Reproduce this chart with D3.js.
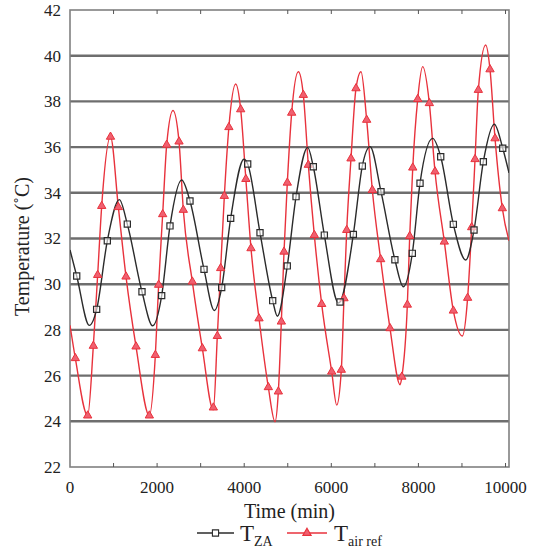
<!DOCTYPE html>
<html><head><meta charset="utf-8">
<script src="https://cdn.jsdelivr.net/npm/d3@7"></script>
<style>body{margin:0;background:#fff}svg{display:block}</style>
</head><body><svg id="c" width="534" height="554"></svg>
<script>
// ---- data ----
const yTicks = [22,24,26,28,30,32,34,36,38,40,42];
const xTicks = [0,2000,4000,6000,8000,10000];
const xMinorTicks = [1000,2000,3000,4000,5000,6000,7000,8000,9000,10000];
const gridValues = [24,26,28,30,32,34,36,38,40];
const xLabel = "Time (min)";
const yLabel = "Temperature (˚C)";
const seriesNames = ["ZA","air ref"];

// T_ZA line points [time, value]
const tzaLine = [[0,31.5],[154,30.36],[444,28.2],[612,28.9],[857,31.9],[1133,33.7],[1316,32.63],[1653,29.67],[1898,28.18],[2105,29.5],[2296,32.55],[2564,34.56],[2755,33.64],[3077,30.65],[3314,28.85],[3483,29.85],[3689,32.88],[3995,35.47],[4080,35.26],[4363,32.25],[4654,29.28],[4761,28.6],[4989,30.8],[5190,33.83],[5458,35.99],[5587,35.14],[5840,32.15],[6165,29.18],[6200,29.22],[6506,32.18],[6712,35.17],[6889,36.02],[7141,34.05],[7460,31.07],[7654,29.89],[7860,31.35],[8037,34.42],[8328,36.38],[8512,35.58],[8802,32.62],[9086,31.06],[9277,32.37],[9491,35.36],[9743,37.0],[9936,35.95],[10080,34.87]];
const tzaMarkers = [[154,30.36],[612,28.9],[857,31.9],[1316,32.63],[1653,29.67],[2105,29.5],[2296,32.55],[2755,33.64],[3077,30.65],[3483,29.85],[3689,32.88],[4080,35.26],[4363,32.25],[4654,29.28],[4989,30.8],[5190,33.83],[5587,35.14],[5840,32.15],[6200,29.22],[6506,32.18],[6712,35.17],[7141,34.05],[7460,31.07],[7860,31.35],[8037,34.42],[8512,35.58],[8802,32.62],[9277,32.37],[9491,35.36],[9936,35.95]];

// T_air ref line points [time, value]
const tairLine = [[0,28.2],[122,26.76],[406,24.25],[536,27.3],[635,30.4],[728,33.42],[930,36.45],[1110,33.37],[1286,30.33],[1516,27.27],[1822,24.25],[1960,26.9],[2035,29.97],[2128,33.06],[2220,36.1],[2365,37.6],[2503,36.24],[2602,33.25],[2809,30.11],[3039,27.19],[3291,24.5],[3383,27.73],[3460,30.7],[3544,33.86],[3648,36.87],[3804,38.76],[3919,37.65],[4038,34.6],[4156,31.57],[4340,28.5],[4554,25.49],[4707,23.98],[4784,25.3],[4853,28.36],[4914,31.42],[4990,34.44],[5090,37.5],[5243,39.3],[5358,38.28],[5472,35.22],[5610,32.15],[5779,29.13],[6009,26.17],[6124,24.71],[6230,26.25],[6291,29.38],[6354,32.37],[6452,35.5],[6567,38.57],[6682,39.3],[6812,37.19],[6942,34.12],[7133,31.09],[7348,28.07],[7580,25.6],[7620,25.95],[7746,29.1],[7800,32.1],[7870,35.1],[7984,38.1],[8098,39.52],[8251,37.92],[8381,34.93],[8595,31.86],[8802,28.84],[9008,27.73],[9130,29.4],[9223,32.49],[9300,35.47],[9376,38.5],[9545,40.47],[9644,39.4],[9759,36.38],[9927,33.32],[10080,31.9]];
const tairMarkers = [[122,26.76],[406,24.25],[536,27.3],[635,30.4],[728,33.42],[930,36.45],[1110,33.37],[1286,30.33],[1516,27.27],[1822,24.25],[1960,26.9],[2035,29.97],[2128,33.06],[2220,36.1],[2503,36.24],[2602,33.25],[2809,30.11],[3039,27.19],[3291,24.6],[3383,27.73],[3460,30.7],[3544,33.86],[3648,36.87],[3919,37.65],[4038,34.6],[4156,31.57],[4340,28.5],[4554,25.49],[4784,25.3],[4853,28.36],[4914,31.42],[4990,34.44],[5090,37.5],[5358,38.28],[5472,35.22],[5610,32.15],[5779,29.13],[6009,26.17],[6230,26.25],[6291,29.38],[6354,32.37],[6452,35.5],[6567,38.57],[6812,37.19],[6942,34.12],[7133,31.09],[7348,28.07],[7620,25.95],[7746,29.1],[7800,32.1],[7870,35.1],[7984,38.1],[8251,37.92],[8381,34.93],[8595,31.86],[8802,28.84],[9130,29.4],[9223,32.49],[9300,35.47],[9376,38.5],[9644,39.4],[9759,36.38],[9927,33.32]];

// ---- chart ----
const svg = d3.select("#c");
const L = 70, R = 509, T = 10, B = 467;
const x = d3.scaleLinear().domain([0,10080]).range([L,R]);
const y = d3.scaleLinear().domain([22,42]).range([B,T]);
const font = "Times New Roman, Liberation Serif, Tinos, DejaVu Serif, Noto Serif, serif";
const textCol = "#222";

// gridlines
svg.append("g").selectAll("line").data(gridValues).join("line")
  .attr("x1",L).attr("x2",R).attr("y1",d=>y(d)).attr("y2",d=>y(d))
  .attr("stroke","#6e6e6e").attr("stroke-width",2.4);

// frame
svg.append("rect").attr("x",L).attr("y",T).attr("width",R-L).attr("height",B-T)
  .attr("fill","none").attr("stroke","#808080").attr("stroke-width",1.6);

// minor ticks top & bottom (inward)
svg.append("g").selectAll("line").data(xMinorTicks).join("line")
  .attr("x1",d=>x(d)).attr("x2",d=>x(d)).attr("y1",B).attr("y2",B-4)
  .attr("stroke","#555").attr("stroke-width",1);
svg.append("g").selectAll("line").data(xMinorTicks).join("line")
  .attr("x1",d=>x(d)).attr("x2",d=>x(d)).attr("y1",T).attr("y2",T+4)
  .attr("stroke","#555").attr("stroke-width",1);

// tick labels
svg.append("g").selectAll("text").data(yTicks).join("text")
  .attr("x",L-9).attr("y",d=>y(d)).attr("dy","0.35em").attr("text-anchor","end")
  .style("font-family",font).attr("font-size",17).attr("fill",textCol).text(d=>d);
svg.append("g").selectAll("text").data(xTicks).join("text")
  .attr("x",d=>x(d)).attr("y",B+26).attr("text-anchor","middle")
  .style("font-family",font).attr("font-size",17).attr("fill",textCol).text(d=>d);

// axis titles
svg.append("text").attr("x",(L+R)/2).attr("y",518).attr("text-anchor","middle")
  .style("font-family",font).attr("font-size",20).attr("fill",textCol).text(xLabel);
svg.append("text").attr("transform",`translate(29,${(T+B)/2+8}) rotate(-90)`)
  .attr("text-anchor","middle").style("font-family",font).attr("font-size",20)
  .attr("fill",textCol).text(yLabel);

// lines
const line = d3.line().x(d=>x(d[0])).y(d=>y(d[1])).curve(d3.curveMonotoneX);
svg.append("clipPath").attr("id","pc").append("rect")
  .attr("x",L).attr("y",T).attr("width",R-L).attr("height",B-T);
const plot = svg.append("g").attr("clip-path","url(#pc)");
const blackCol = "#2b2b2b", redCol = "#e8323c";
plot.append("path").datum(tairLine).attr("d",line).attr("fill","none")
  .attr("stroke",redCol).attr("stroke-width",1.4);
plot.append("path").datum(tzaLine).attr("d",line).attr("fill","none")
  .attr("stroke",blackCol).attr("stroke-width",1.4);

const tri = d3.symbol().type(d3.symbolTriangle).size(30);
const sq = d3.symbol().type(d3.symbolSquare).size(38);
plot.append("g").selectAll("path").data(tairMarkers).join("path")
  .attr("transform",d=>`translate(${x(d[0])},${y(d[1])})`).attr("d",tri)
  .attr("fill","#f06070").attr("stroke",redCol).attr("stroke-width",1);
plot.append("g").selectAll("path").data(tzaMarkers).join("path")
  .attr("transform",d=>`translate(${x(d[0])},${y(d[1])})`).attr("d",sq)
  .attr("fill","#fff").attr("fill-opacity",0.6).attr("stroke",blackCol).attr("stroke-width",1.2);

// legend
const lg = svg.append("g");
const items = [
  {x0:197, x1:234, col:blackCol, sym:sq, fill:"#fff", name:seriesNames[0], tx:240},
  {x0:287, x1:327, col:redCol, sym:tri, fill:"#f06070", name:seriesNames[1], tx:334}
];
const ly = 533;
items.forEach(it=>{
  lg.append("line").attr("x1",it.x0).attr("x2",it.x1).attr("y1",ly).attr("y2",ly)
    .attr("stroke",it.col).attr("stroke-width",1.4);
  lg.append("path").attr("transform",`translate(${(it.x0+it.x1)/2},${ly})`).attr("d",it.sym)
    .attr("fill",it.fill).attr("stroke",it.col).attr("stroke-width",1.1);
  const t = lg.append("text").attr("x",it.tx).attr("y",ly+8).style("font-family",font)
    .attr("font-size",23).attr("fill",textCol);
  t.append("tspan").text("T");
  t.append("tspan").attr("font-size",14).attr("dy",5).text(it.name);
});
</script></body></html>
